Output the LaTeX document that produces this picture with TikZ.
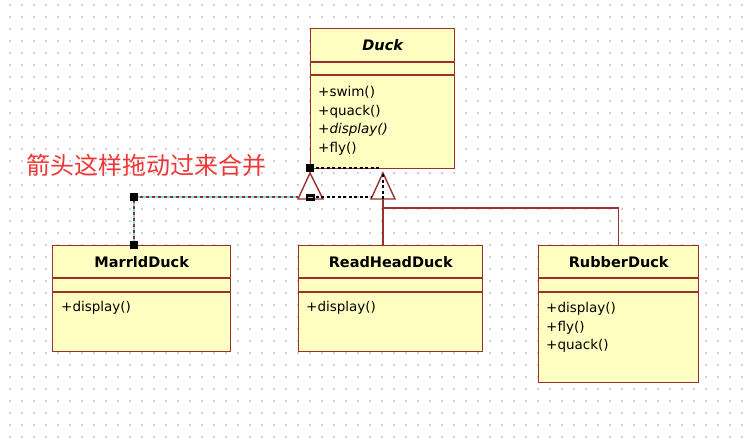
\documentclass[tikz,border=0pt]{standalone}
\usepackage{fontspec}
\setmainfont{DejaVu Sans}
\newfontfamily\cjkfont{Noto Sans CJK SC}
\usepackage{xcolor}
\usepackage{tikz}
\usetikzlibrary{arrows.meta, positioning, shapes.geometric}

\definecolor{umlborder}{RGB}{155,48,48}
\definecolor{umlfill}{RGB}{255,255,194}
\definecolor{griddot}{RGB}{208,208,208}
\definecolor{notered}{RGB}{240,55,55}
\definecolor{selcyan}{RGB}{110,225,240}

\begin{document}
\begin{tikzpicture}[
    x=1pt, y=-1pt,
    classbox/.style={
        draw=umlborder,
        fill=umlfill,
        line width=1.4pt,
        inner sep=0pt,
        anchor=north west
    },
    classname/.style={
        font=\fontsize{14.5}{16}\selectfont\bfseries,
        inner sep=0pt
    },
    ops/.style={
        font=\fontsize{13.5}{18.7}\selectfont,
        align=left,
        anchor=north west,
        inner sep=0pt
    },
    sepline/.style={
        draw=umlborder,
        line width=1.4pt
    },
    inherit/.style={
        draw=umlborder,
        line width=1.4pt
    },
    tri/.style={
        draw=umlborder,
        fill=white,
        line width=1.4pt,
        line join=miter
    },
    oldlink/.style={
        black,
        line width=1.1pt,
        dash pattern=on 3pt off 2.5pt
    },
    handle/.style={
        fill=black,
        minimum size=8pt,
        inner sep=0pt
    }
]

\useasboundingbox (0,0) rectangle (748,444);
\fill[white] (0,0) rectangle (748,444);

% Dot grid
\foreach \gx in {10,22,...,742}
    \foreach \gy in {5,17,...,437}
        \fill[griddot] (\gx-1,\gy-1) rectangle ++(2,2);

% Classes
\node[classbox, minimum width=144pt, minimum height=140pt] (duck) at (310,28) {};
\draw[sepline] ([yshift=-34pt]duck.north west) -- ([yshift=-34pt]duck.north east);
\draw[sepline] ([yshift=-47pt]duck.north west) -- ([yshift=-47pt]duck.north east);
\node[classname, font=\fontsize{14.5}{16}\selectfont\bfseries\itshape] (duckname) at ([yshift=-17pt]duck.north) {Duck};
\node[ops] (duckops) at ([xshift=8pt, yshift=-58pt]duck.north west) {+swim()\\+quack()\\\textit{+display()}\\+fly()};

\node[classbox, minimum width=178pt, minimum height=106pt] (marrld) at (52,245) {};
\draw[sepline] ([yshift=-33pt]marrld.north west) -- ([yshift=-33pt]marrld.north east);
\draw[sepline] ([yshift=-47pt]marrld.north west) -- ([yshift=-47pt]marrld.north east);
\node[classname] (marrldname) at ([yshift=-17pt]marrld.north) {MarrldDuck};
\node[ops] (marrldops) at ([xshift=9pt, yshift=-56pt]marrld.north west) {+display()};

\node[classbox, minimum width=184pt, minimum height=106pt] (redhead) at (298,245) {};
\draw[sepline] ([yshift=-33pt]redhead.north west) -- ([yshift=-33pt]redhead.north east);
\draw[sepline] ([yshift=-47pt]redhead.north west) -- ([yshift=-47pt]redhead.north east);
\node[classname] (redheadname) at ([yshift=-17pt]redhead.north) {ReadHeadDuck};
\node[ops] (redheadops) at ([xshift=8pt, yshift=-56pt]redhead.north west) {+display()};

\node[classbox, minimum width=160pt, minimum height=137pt] (rubber) at (538,245) {};
\draw[sepline] ([yshift=-33pt]rubber.north west) -- ([yshift=-33pt]rubber.north east);
\draw[sepline] ([yshift=-47pt]rubber.north west) -- ([yshift=-47pt]rubber.north east);
\node[classname] (rubbername) at ([yshift=-17pt]rubber.north) {RubberDuck};
\node[ops] (rubberops) at ([xshift=8pt, yshift=-57pt]rubber.north west) {+display()\\+fly()\\+quack()};

% Generalization heads
\coordinate (tipL) at (310,173);
\coordinate (tipR) at (383,173);
\coordinate (baseR) at (383,199);
\coordinate (hdlA) at (134,197);
\coordinate (hdlB) at (310,197);

% Inheritance lines
\draw[inherit] (baseR) -- (baseR |- redhead.north);
\draw[inherit] ([yshift=-9pt]baseR) -| (rubber.north);

% Dragged link
\draw[selcyan, line width=1.3pt] (hdlA |- marrld.north) -- (hdlA) -- (298,197);
\draw[umlborder, line width=1.3pt, dash pattern=on 3pt off 3pt] (hdlA |- marrld.north) -- (hdlA) -- (298,197);

\draw[tri] (tipL) -- (298,199) -- (323,199) -- cycle;
\draw[tri] (tipR) -- (371,199) -- (395,199) -- cycle;

% Old link
\draw[oldlink] (hdlB) -- (371,197);
\draw[oldlink] ([yshift=-1pt]tipR) -- (baseR);
\draw[oldlink] (310,168) -- (379,168);

% Handles
\node[handle] (h1) at (310,168) {};
\node[handle, minimum width=9pt, minimum height=7pt] (h2) at (hdlB) {};
\fill[gray!60] ([xshift=-2.5pt]h2.center) rectangle ([xshift=2.5pt, yshift=-1pt]h2.center);
\node[handle] (h3) at (hdlA) {};
\node[handle] (h4) at (hdlA |- marrld.north) {};

% Note
\node[anchor=west, inner sep=0pt, text=notered, font=\cjkfont\fontsize{24}{26}\selectfont] (note) at (26,165) {箭头这样拖动过来合并};

\end{tikzpicture}
\end{document}
